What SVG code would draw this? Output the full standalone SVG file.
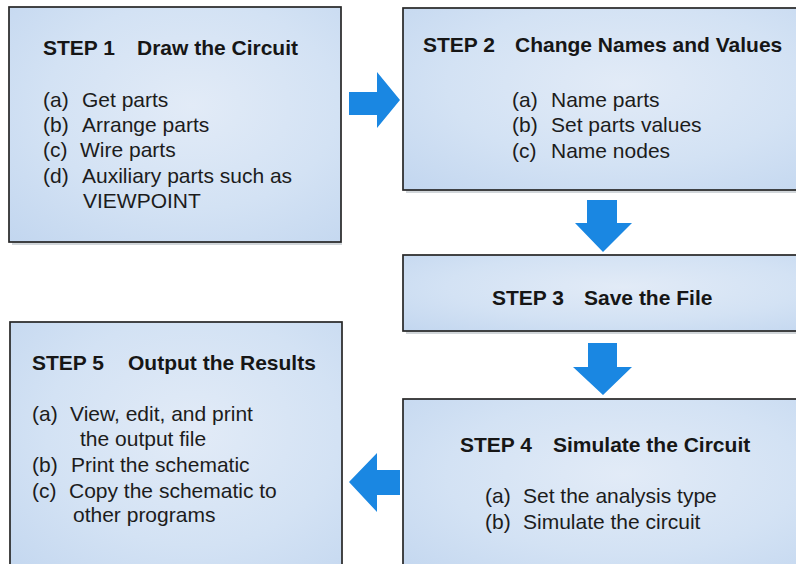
<svg xmlns="http://www.w3.org/2000/svg" width="796" height="564" viewBox="0 0 796 564">
  <style>
    .box { fill: url(#boxFill); stroke: #262626; stroke-width: 1.7; }
    .shadow { fill: #9aa3ad; opacity: 0.45; }
    .title { font-family: "Liberation Sans", Arial, sans-serif; font-weight: bold; font-size: 21px; fill: #161616; }
    .body { font-family: "Liberation Sans", Arial, sans-serif; font-size: 21px; fill: #1c1c1c; }
    .arrow { fill: #1a87e2; }
  </style>
  <defs>
    <radialGradient id="boxFill" cx="0.55" cy="0.42" r="0.8">
      <stop offset="0" stop-color="#e2ebf7"/>
      <stop offset="0.55" stop-color="#d3e2f4"/>
      <stop offset="1" stop-color="#c2d6ef"/>
    </radialGradient>
  </defs>

  <rect width="796" height="564" fill="#ffffff"/>

  <!-- STEP 1 -->
  <g id="step1">
    <rect class="shadow" x="12" y="242" width="330" height="3"/>
    <rect class="box" x="9" y="7" width="332" height="235"/>
    <text class="title" y="55"><tspan x="43">STEP 1</tspan><tspan x="137">Draw the Circuit</tspan></text>
    <text class="body" y="107"><tspan x="43">(a)</tspan><tspan x="82">Get parts</tspan></text>
    <text class="body" y="132"><tspan x="43">(b)</tspan><tspan x="82">Arrange parts</tspan></text>
    <text class="body" y="157"><tspan x="43">(c)</tspan><tspan x="80">Wire parts</tspan></text>
    <text class="body" y="183"><tspan x="43">(d)</tspan><tspan x="82">Auxiliary parts such as</tspan></text>
    <text class="body" x="83" y="208">VIEWPOINT</text>
  </g>

  <!-- STEP 2 -->
  <g id="step2">
    <rect class="shadow" x="406" y="190" width="400" height="3"/>
    <rect class="box" x="403" y="8" width="400" height="182"/>
    <text class="title" y="52"><tspan x="423">STEP 2</tspan><tspan x="515">Change Names and Values</tspan></text>
    <text class="body" y="107"><tspan x="512">(a)</tspan><tspan x="551">Name parts</tspan></text>
    <text class="body" y="132"><tspan x="512">(b)</tspan><tspan x="551">Set parts values</tspan></text>
    <text class="body" y="158"><tspan x="512">(c)</tspan><tspan x="551">Name nodes</tspan></text>
  </g>

  <!-- STEP 3 -->
  <g id="step3">
    <rect class="shadow" x="406" y="331" width="400" height="3"/>
    <rect class="box" x="403" y="255" width="400" height="76"/>
    <text class="title" y="305"><tspan x="492">STEP 3</tspan><tspan x="584">Save the File</tspan></text>
  </g>

  <!-- STEP 4 -->
  <g id="step4">
    <rect class="box" x="403" y="399" width="400" height="180"/>
    <text class="title" y="452"><tspan x="460">STEP 4</tspan><tspan x="553">Simulate the Circuit</tspan></text>
    <text class="body" y="503"><tspan x="485">(a)</tspan><tspan x="523">Set the analysis type</tspan></text>
    <text class="body" y="529"><tspan x="485">(b)</tspan><tspan x="523">Simulate the circuit</tspan></text>
  </g>

  <!-- STEP 5 -->
  <g id="step5">
    <rect class="box" x="10" y="322" width="332" height="260"/>
    <text class="title" y="370"><tspan x="32">STEP 5</tspan><tspan x="128">Output the Results</tspan></text>
    <text class="body" y="421"><tspan x="32">(a)</tspan><tspan x="70">View, edit, and print</tspan></text>
    <text class="body" x="80" y="446">the output file</text>
    <text class="body" y="472"><tspan x="32">(b)</tspan><tspan x="71">Print the schematic</tspan></text>
    <text class="body" y="498"><tspan x="32">(c)</tspan><tspan x="69">Copy the schematic to</tspan></text>
    <text class="body" x="73" y="522">other programs</text>
  </g>

  <!-- flow arrows between steps -->
  <g id="connectors">
    <polygon class="arrow" points="349,92 377,92 377,72 400,100 377,128 377,115 349,115"/>
    <polygon class="arrow" points="587,200 617,200 617,223 632,223 603,252 575,223 587,223"/>
    <polygon class="arrow" points="588,343 617,343 617,367 632,367 603,395 573,367 588,367"/>
    <polygon class="arrow" points="400,470 377,470 377,453 349,482 377,512 377,495 400,495"/>
  </g>
</svg>
